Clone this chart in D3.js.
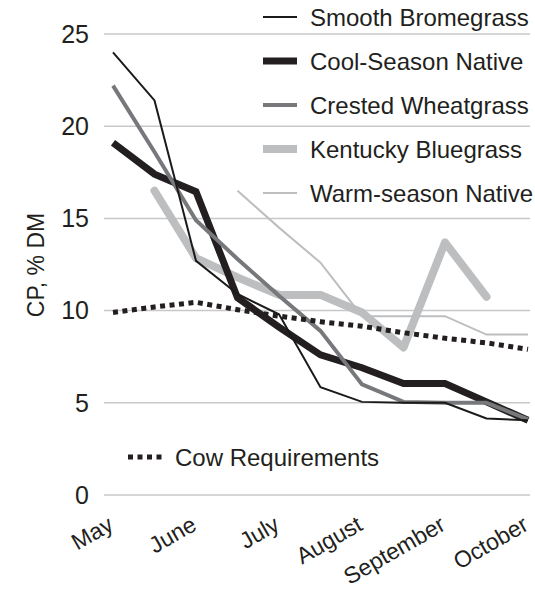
<!DOCTYPE html>
<html>
<head>
<meta charset="utf-8">
<script src="https://cdn.jsdelivr.net/npm/d3@7"></script>
<style>
  html, body { margin: 0; padding: 0; background: #fff; }
  svg { display: block; font-family: 'Liberation Sans', Arial, Helvetica, sans-serif; }
</style>
</head>
<body>
<div id="chart"></div>
<script>
// Half-month sampling points, May 1 through October 1
const points = d3.range(11)
const monthLabels = ['May', 'June', 'July', 'August', 'September', 'October']
const monthIndex = [0, 2, 4, 6, 8, 10]
const yTicks = [0, 5, 10, 15, 20, 25]

// CP, % DM per forage (null = not sampled)
const smoothBromegrass = [24.0, 21.4, 12.7, 10.9, 9.8, 5.85, 5.05, 5.0, 5.0, 4.15, 4.05]
const coolSeasonNative = [19.1, 17.4, 16.45, 10.7, 9.1, 7.6, 6.9, 6.05, 6.05, 5.05, 4.05]
const crestedWheatgrass = [22.2, 18.6, 14.9, 12.8, 10.8, 8.9, 6.0, 5.05, 5.0, 5.0, 4.1]
const kentuckyBluegrass = [null, 16.5, 12.85, 11.8, 10.85, 10.85, 9.9, 8.0, 13.7, 10.75, null]
const warmSeasonNative = [null, null, null, 16.5, 14.5, 12.6, 9.7, 9.7, 9.7, 8.7, 8.7]
const cowRequirements = [9.9, 10.2, 10.45, 10.05, 9.7, 9.4, 9.15, 8.8, 8.5, 8.25, 7.9]

const width = 535
const height = 594
const textColor = '#231f20'

// Series styling, in draw order
const series = [
  { name: 'Warm-season Native', values: warmSeasonNative, color: '#bcbec0', width: 2, legend: 4 },
  { name: 'Kentucky Bluegrass', values: kentuckyBluegrass, color: '#bcbec0', width: 8, cap: 'round', legend: 3 },
  { name: 'Cool-Season Native', values: coolSeasonNative, color: '#231f20', width: 7, legend: 1 },
  { name: 'Crested Wheatgrass', values: crestedWheatgrass, color: '#77787b', width: 4, legend: 2 },
  { name: 'Smooth Bromegrass', values: smoothBromegrass, color: '#1a1a1a', width: 2, legend: 0 },
]

const x = d3.scalePoint().domain(points).range([113, 528])
const y = d3.scaleLinear().domain([0, 25]).range([495, 34])

const svg = d3
  .select('#chart')
  .append('svg')
  .attr('width', width)
  .attr('height', height)

// Horizontal gridlines
svg
  .append('g')
  .attr('class', 'grid')
  .selectAll('line')
  .data(yTicks)
  .enter()
  .append('line')
  .attr('x1', 104)
  .attr('x2', 530)
  .attr('y1', (d) => y(d))
  .attr('y2', (d) => y(d))
  .style('stroke', '#c8c8c8')
  .style('stroke-width', 1.5)

// Y axis tick labels
svg
  .append('g')
  .attr('class', 'y-ticks')
  .selectAll('text')
  .data(yTicks)
  .enter()
  .append('text')
  .attr('x', 89)
  .attr('y', (d) => y(d))
  .attr('dy', '0.35em')
  .attr('text-anchor', 'end')
  .style('font-size', '25px')
  .style('fill', textColor)
  .text((d) => d)

// Y axis title
svg
  .append('text')
  .attr('transform', 'translate(44,265) rotate(-90)')
  .attr('text-anchor', 'middle')
  .style('font-size', '23px')
  .style('fill', textColor)
  .text('CP, % DM')

// Month labels, rotated
svg
  .append('g')
  .attr('class', 'x-ticks')
  .selectAll('text')
  .data(monthLabels)
  .enter()
  .append('text')
  .attr('transform', (d, i) => `translate(${x(monthIndex[i]) + 2},529) rotate(-30)`)
  .attr('text-anchor', 'end')
  .style('font-size', '23px')
  .style('fill', textColor)
  .text((d) => d)

const line = d3
  .line()
  .defined((d) => d != null)
  .x((d, i) => x(i))
  .y((d) => y(d))

// Forage lines
svg
  .append('g')
  .attr('class', 'series')
  .selectAll('path')
  .data(series)
  .enter()
  .append('path')
  .attr('d', (d) => line(d.values))
  .style('fill', 'none')
  .style('stroke', (d) => d.color)
  .style('stroke-width', (d) => d.width)
  .style('stroke-linecap', (d) => d.cap || 'butt')
  .style('stroke-linejoin', (d) => (d.cap ? 'round' : 'miter'))

// Cow requirement dotted line
svg
  .append('path')
  .attr('class', 'cow')
  .attr('d', line(cowRequirements))
  .style('fill', 'none')
  .style('stroke', '#231f20')
  .style('stroke-width', 5)
  .style('stroke-dasharray', '5,4.5')

// Legend, top right
const legend = svg.append('g').attr('class', 'legend')
series.forEach((s) => {
  const ly = 17 + 44 * s.legend
  legend
    .append('line')
    .attr('x1', 263)
    .attr('x2', 297)
    .attr('y1', ly)
    .attr('y2', ly)
    .style('stroke', s.color)
    .style('stroke-width', s.width)
  legend
    .append('text')
    .attr('x', 310)
    .attr('y', ly + 1)
    .attr('dy', '0.35em')
    .style('font-size', '24px')
    .style('fill', textColor)
    .text(s.name)
})

// Cow requirements legend entry
legend
  .append('line')
  .attr('x1', 128)
  .attr('x2', 164)
  .attr('y1', 457)
  .attr('y2', 457)
  .style('stroke', '#231f20')
  .style('stroke-width', 5)
  .style('stroke-dasharray', '5,4.5')
legend
  .append('text')
  .attr('x', 175)
  .attr('y', 458)
  .attr('dy', '0.35em')
  .style('font-size', '24px')
  .style('fill', textColor)
  .text('Cow Requirements')
</script>
</body>
</html>
